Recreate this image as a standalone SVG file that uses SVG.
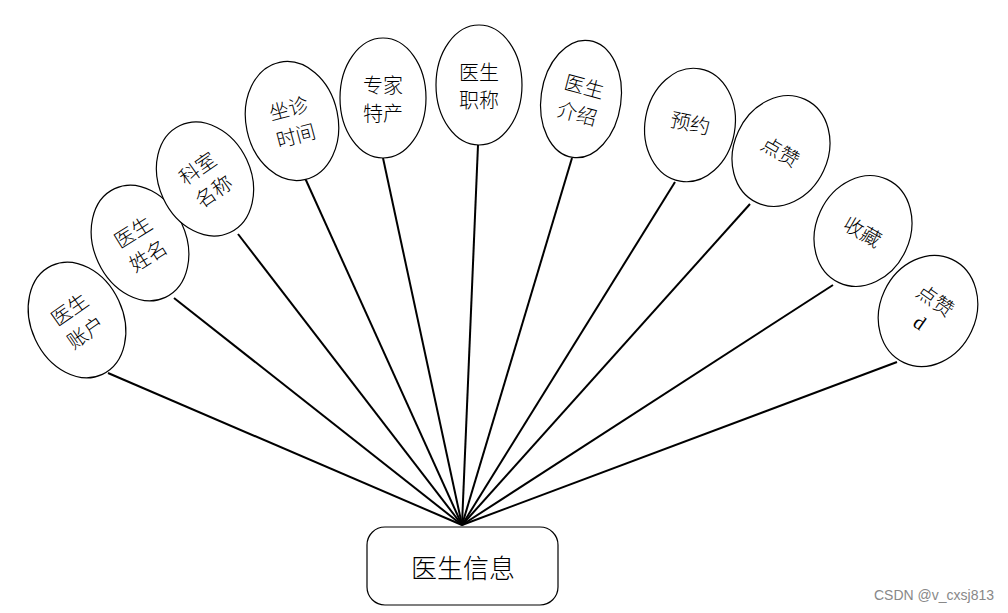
<svg xmlns="http://www.w3.org/2000/svg" width="1008" height="613" viewBox="0 0 1008 613">
<style>
.e{fill:#fff;stroke:#000;stroke-width:1.2}
.t{font-family:"Noto Sans CJK SC","Liberation Serif",serif;font-size:20px;font-weight:300;fill:#000;text-anchor:middle;dominant-baseline:central}
.c line{stroke:#000;stroke-width:2}
</style>
<rect width="1008" height="613" fill="#fff"/>
<g class="c" id="connectors">
<line x1="108" y1="373" x2="462" y2="525"/>
<line x1="174" y1="298" x2="462" y2="525"/>
<line x1="238" y1="234" x2="462" y2="525"/>
<line x1="305" y1="178" x2="462" y2="525"/>
<line x1="383" y1="158" x2="462" y2="525"/>
<line x1="478" y1="145" x2="462" y2="525"/>
<line x1="572" y1="158" x2="462" y2="525"/>
<line x1="675" y1="182" x2="462" y2="525"/>
<line x1="750" y1="204" x2="462" y2="525"/>
<line x1="833" y1="285" x2="462" y2="525"/>
<line x1="897" y1="362" x2="462" y2="525"/>
</g>
<g id="n1" transform="translate(77,320)"><ellipse class="e" rx="46" ry="60" transform="rotate(-25)"/><g transform="rotate(-35)"><text class="t" y="-14">医生</text><text class="t" y="14">账户</text></g></g>
<g id="n2" transform="translate(140,243)"><ellipse class="e" rx="46" ry="60" transform="rotate(-25)"/><g transform="rotate(-32)"><text class="t" y="-14">医生</text><text class="t" y="14">姓名</text></g></g>
<g id="n3" transform="translate(205,179)"><ellipse class="e" rx="46" ry="59" transform="rotate(-25)"/><g transform="rotate(-35)"><text class="t" y="-14">科室</text><text class="t" y="14">名称</text></g></g>
<g id="n4" transform="translate(292,121)"><ellipse class="e" rx="46" ry="60" transform="rotate(-12)"/><g transform="rotate(-15)"><text class="t" y="-14">坐诊</text><text class="t" y="14">时间</text></g></g>
<g id="n5" transform="translate(383,98)"><ellipse class="e" rx="43" ry="60"/><text class="t" y="-14">专家</text><text class="t" y="14">特产</text></g>
<g id="n6" transform="translate(479,85)"><ellipse class="e" rx="43" ry="60"/><text class="t" y="-14">医生</text><text class="t" y="14">职称</text></g>
<g id="n7" transform="translate(581,99)"><ellipse class="e" rx="40" ry="59" transform="rotate(8)"/><g transform="rotate(15)"><text class="t" y="-14">医生</text><text class="t" y="14">介绍</text></g></g>
<g id="n8" transform="translate(690,125)"><ellipse class="e" rx="45" ry="57" transform="rotate(10)"/><text class="t" y="-3" transform="rotate(12)">预约</text></g>
<g id="n9" transform="translate(781,151)"><ellipse class="e" rx="47" ry="57" transform="rotate(25)"/><text class="t" transform="rotate(30)">点赞</text></g>
<g id="n10" transform="translate(863,231)"><ellipse class="e" rx="47" ry="57" transform="rotate(25)"/><text class="t" transform="rotate(30)">收藏</text></g>
<g id="n11" transform="translate(928,311)"><ellipse class="e" rx="48" ry="57" transform="rotate(25)"/><g transform="rotate(35)"><text class="t" y="-14">点赞</text><text class="t" y="14" style="font-family:'Liberation Serif',serif;font-weight:400">d</text></g></g>
<g id="main"><rect x="367" y="527" width="191" height="78" rx="18" ry="18" fill="#fff" stroke="#000" stroke-width="1.2"/><text class="t" x="463" y="566" style="font-size:26px">医生信息</text></g>
<text x="994" y="600" style="font-family:'Liberation Sans',sans-serif;font-size:14px;fill:#888;text-anchor:end">CSDN @v_cxsj813</text>
</svg>
